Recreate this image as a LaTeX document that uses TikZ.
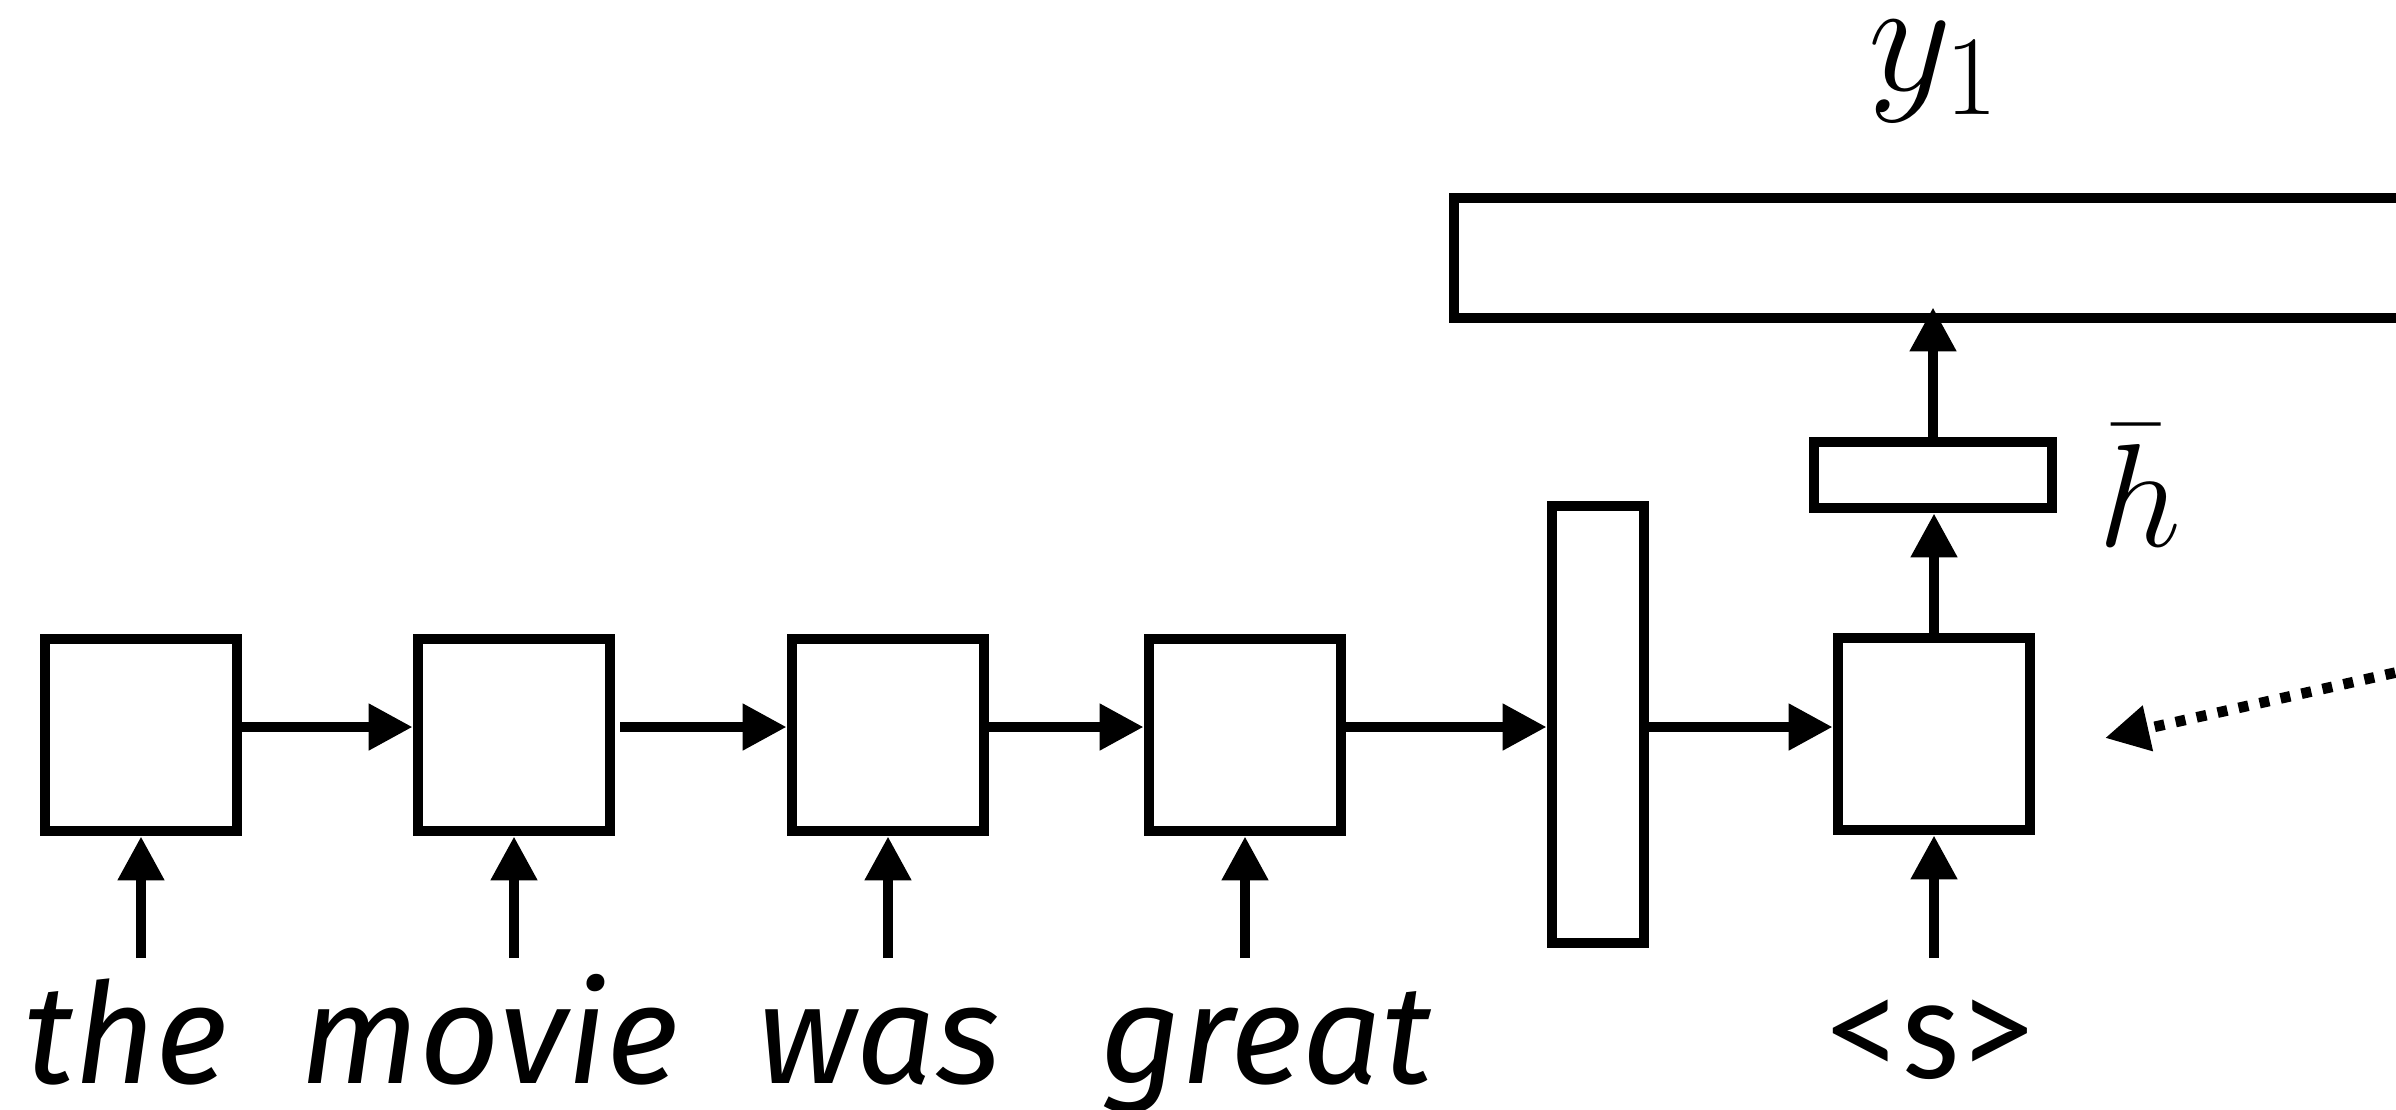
\RequirePackage{fix-cm}
\documentclass[tikz,border=0pt]{standalone}
\usepackage{fontspec}
\newfontfamily\wordfont{Carlito}
\newfontfamily\slantfont{Fira Sans}
\usetikzlibrary{arrows.meta,calc}

\begin{document}
\begin{tikzpicture}[x=0.5pt,y=-0.5pt,
  cell/.style={draw, line width=5.3pt, inner sep=0pt},
  arr/.style={line width=5.3pt, -{Triangle[length=22pt,width=22pt]}},
  word/.style={inner sep=0pt, anchor=base west,
    font=\slantfont\itshape\fontsize{70}{80}\selectfont},
  mathlabel/.style={inner sep=0pt, anchor=base west}
]
\useasboundingbox (0,0) rectangle (2396,1109);
\clip (0,0) rectangle (2396,1109);

% encoder cells
\node[cell, minimum width=96pt, minimum height=96pt] (b1) at (141,735) {};
\node[cell, minimum width=96pt, minimum height=96pt] (b2) at (514,735) {};
\node[cell, minimum width=96pt, minimum height=96pt] (b3) at (888,735) {};
\node[cell, minimum width=96pt, minimum height=96pt] (b4) at (1245,735) {};
% sentence vector
\node[cell, minimum width=46pt, minimum height=218.5pt] (ctx) at (1598,724.5) {};
% decoder cell, hidden summary and output layer
\node[cell, minimum width=96pt, minimum height=96pt] (dec) at (1934,734) {};
\node[cell, minimum width=119pt, minimum height=33pt] (hb) at (1933,475) {};
\node[cell, minimum width=623pt, minimum height=60pt] (out) at (2077,258) {};

% recurrent connections
\coordinate (row) at (0,727);
\draw[arr] (b1.east |- row) -- (b2.west |- row);
\draw[arr, shorten <=2.5pt] (b2.east |- row) -- (b3.west |- row);
\draw[arr] (b3.east |- row) -- (b4.west |- row);
\draw[arr] (b4.east |- row) -- (ctx.west |- row);
\draw[arr] (ctx.east |- row) -- (dec.west |- row);

% word inputs
\coordinate (base) at (0,958);
\foreach \b in {b1,b2,b3,b4,dec}{
  \coordinate (\b-in) at (\b.south |- base);
  \draw[arr] (\b-in) -- (\b.south);
}

% decoder outputs
\draw[arr] (dec.north) -- (hb.south -| dec.north);
\coordinate (ytip) at ($(hb.north |- out.south)+(0,-16)$);
\draw[arr] (hb.north) -- (ytip);

% attention input
\coordinate (att) at (2500,649);
\coordinate (atttip) at (2105,738);
\draw[line width=5.3pt, dash pattern=on 5pt off 5.75pt,
  -{Triangle[length=22pt,width=22pt]}] (att) -- (atttip);

% labels
\node[mathlabel, font=\fontsize{81}{90}\selectfont] (ylab) at (1868,90) {$y_1$};
\node[mathlabel, font=\fontsize{73.5}{80}\selectfont] (hlab) at (2098,546) {$\bar{h}$};

\node[word] (w1) at (24,1083) {the};
\node[word] (w2) at (300,1083) {movie};
\node[word] (w3) at (757,1083) {was};
\node[word] (w4) at (1100,1083) {great};
\node[inner sep=0pt, anchor=base west,
  font=\wordfont\fontsize{75}{90}\selectfont] (w5) at (1826,1078) {<s>};
\end{tikzpicture}
\end{document}
